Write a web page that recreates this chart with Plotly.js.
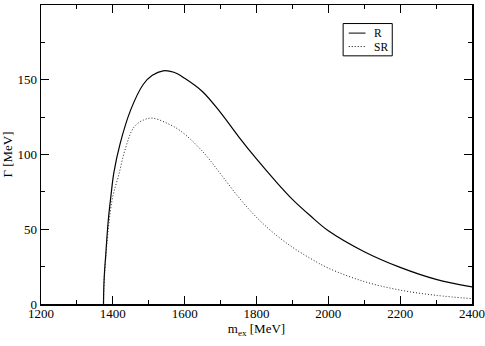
<!DOCTYPE html>
<html>
<head>
<meta charset="utf-8">
<script src="https://cdn.plot.ly/plotly-3.0.1.min.js"></script>
<style>
  html, body { margin: 0; padding: 0; background: #fff; }
  #plot { width: 485px; height: 346px; }
</style>
</head>
<body>
<div id="plot"></div>
<script>
// width Gamma [MeV] vs excitation mass m_ex [MeV]
const massR = [1374, 1375, 1377, 1380, 1387, 1395, 1403, 1420, 1450, 1485, 1510, 1540, 1570, 1600, 1650, 1700, 1750, 1800, 1850, 1900, 1950, 2000, 2100, 2200, 2300, 2400];
const gammaR = [0, 12, 22, 32, 55, 73, 88, 107, 130, 147, 153, 156, 155, 151, 142, 128, 112, 97, 83, 70, 59, 49, 35, 24.5, 16.5, 11.5];

const massSR = [1374, 1375, 1377, 1380, 1388, 1400, 1416, 1435, 1458, 1485, 1510, 1550, 1590, 1650, 1700, 1750, 1800, 1850, 1900, 1950, 2000, 2100, 2200, 2300, 2400];
const gammaSR = [0, 11, 20, 30, 52, 72, 86, 104, 118, 123, 124.3, 121, 115.5, 102, 87, 71.5, 58, 47, 38, 30.5, 24, 15, 9.3, 5.8, 3.6];

const seriesNames = ['R', 'SR'];
const seriesDash = ['solid', '1px,2px'];

const serif = '"Liberation Serif", "Times New Roman", Times, serif';

const traces = [
  {
    x: massR, y: gammaR, name: seriesNames[0],
    type: 'scatter', mode: 'lines',
    line: { color: '#000', width: 1.2, dash: seriesDash[0], shape: 'spline', smoothing: 1 }
  },
  {
    x: massSR, y: gammaSR, name: seriesNames[1],
    type: 'scatter', mode: 'lines',
    line: { color: '#222', width: 1, dash: seriesDash[1], shape: 'spline', smoothing: 1 }
  }
];

const axisCommon = {
  showgrid: false,
  zeroline: false,
  showline: true,
  linecolor: '#000',
  linewidth: 1.5,
  mirror: 'ticks',
  ticks: 'inside',
  ticklen: 8,
  tickwidth: 1,
  tickcolor: '#000',
  tickfont: { family: serif, size: 13, color: '#000' }
};

// hand-made legend box in paper coords (xmgrace style)
const legX0 = 0.701, legX1 = 0.815, legY0 = 0.83, legY1 = 0.938;
const shapes = [
  { type: 'rect', xref: 'paper', yref: 'paper', x0: legX0, x1: legX1, y0: legY0, y1: legY1,
    line: { color: '#000', width: 1 }, fillcolor: '#fff', layer: 'above' }
];
const annotations = [];
seriesNames.forEach((name, i) => {
  const yy = legY1 - 0.032 - i * 0.045;
  shapes.push({ type: 'line', xref: 'paper', yref: 'paper', x0: legX0 + 0.013, x1: legX0 + 0.052, y0: yy, y1: yy,
    line: { color: '#000', width: 1, dash: seriesDash[i] }, layer: 'above' });
  annotations.push({ xref: 'paper', yref: 'paper', x: legX0 + 0.07, y: yy, text: name,
    xanchor: 'left', yanchor: 'middle', showarrow: false, borderpad: 0,
    font: { family: serif, size: 11.5, color: '#000' } });
});

const layout = {
  width: 485,
  height: 346,
  margin: { l: 41, r: 13, t: 5, b: 42 },
  paper_bgcolor: '#fff',
  plot_bgcolor: '#fff',
  font: { family: serif, size: 13, color: '#000' },
  showlegend: false,
  shapes: shapes,
  annotations: annotations,
  xaxis: Object.assign({}, axisCommon, {
    range: [1200, 2400],
    dtick: 200,
    tick0: 1200,
    ticklabelstandoff: -3,
    minor: { ticks: 'inside', ticklen: 4, dtick: 100, tickcolor: '#000' },
    title: { text: 'm<sub>ex</sub> [MeV]', font: { family: serif, size: 13 }, standoff: 4 }
  }),
  yaxis: Object.assign({}, axisCommon, {
    range: [0, 200],
    dtick: 50,
    minor: { ticks: 'inside', ticklen: 4, dtick: 25, tickcolor: '#000' },
    title: { text: 'Γ [MeV]', font: { family: serif, size: 13 }, standoff: 6 }
  })
};

Plotly.newPlot('plot', traces, layout, { displayModeBar: false, staticPlot: true });
</script>
</body>
</html>
